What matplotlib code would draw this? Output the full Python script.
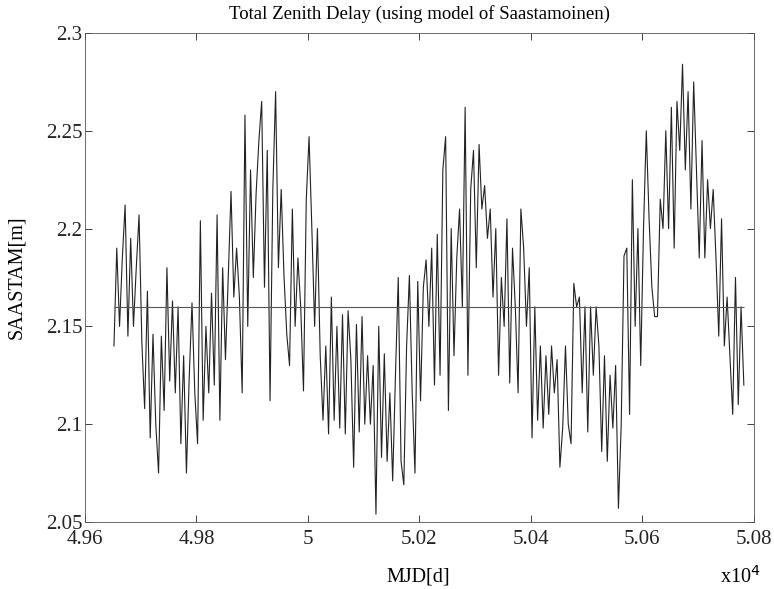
import numpy as np
import matplotlib
matplotlib.use("Agg")
import matplotlib.pyplot as plt
from matplotlib.ticker import FuncFormatter

plt.rcParams['font.family'] = ['Liberation Serif', 'DejaVu Serif']

# Zenith delay samples (m), one every 5 days starting at MJD 49652
start_mjd = 49652
step_days = 5
ztd = [
    2.140, 2.190, 2.150, 2.185, 2.212, 2.145, 2.195, 2.150, 2.180, 2.207,
    2.142, 2.108, 2.168, 2.093, 2.146, 2.100, 2.075, 2.145, 2.107, 2.180,
    2.122, 2.163, 2.116, 2.160, 2.090, 2.135, 2.075, 2.124, 2.162, 2.116,
    2.090, 2.204, 2.102, 2.150, 2.116, 2.167, 2.120, 2.207, 2.102, 2.180,
    2.133, 2.175, 2.219, 2.165, 2.190, 2.165, 2.116, 2.258, 2.150, 2.230,
    2.175, 2.218, 2.245, 2.265, 2.170, 2.240, 2.112, 2.220, 2.270, 2.180,
    2.220, 2.176, 2.146, 2.130, 2.210, 2.150, 2.185, 2.160, 2.117, 2.215,
    2.247, 2.200, 2.150, 2.200, 2.135, 2.102, 2.140, 2.095, 2.165, 2.102,
    2.150, 2.098, 2.156, 2.095, 2.158, 2.133, 2.078, 2.151, 2.096, 2.155,
    2.100, 2.135, 2.100, 2.130, 2.054, 2.150, 2.083, 2.136, 2.081, 2.116,
    2.071, 2.125, 2.175, 2.081, 2.069, 2.140, 2.176, 2.116, 2.075, 2.173,
    2.112, 2.170, 2.184, 2.150, 2.190, 2.120, 2.197, 2.125, 2.230, 2.247,
    2.107, 2.200, 2.135, 2.185, 2.210, 2.160, 2.262, 2.125, 2.220, 2.240,
    2.180, 2.243, 2.210, 2.222, 2.195, 2.210, 2.165, 2.200, 2.125, 2.175,
    2.150, 2.205, 2.121, 2.190, 2.160, 2.116, 2.210, 2.190, 2.150, 2.180,
    2.093, 2.160, 2.102, 2.140, 2.098, 2.135, 2.105, 2.140, 2.116, 2.133,
    2.078, 2.098, 2.140, 2.100, 2.090, 2.172, 2.160, 2.165, 2.116, 2.160,
    2.096, 2.160, 2.125, 2.160, 2.140, 2.086, 2.135, 2.081, 2.125, 2.098,
    2.130, 2.057, 2.100, 2.186, 2.190, 2.105, 2.225, 2.150, 2.200, 2.130,
    2.200, 2.250, 2.205, 2.170, 2.155, 2.155, 2.215, 2.200, 2.250, 2.200,
    2.262, 2.190, 2.265, 2.240, 2.284, 2.230, 2.270, 2.210, 2.275, 2.230,
    2.185, 2.245, 2.185, 2.225, 2.200, 2.220, 2.185, 2.145, 2.205, 2.140,
    2.165, 2.135, 2.105, 2.175, 2.110, 2.160, 2.120,
]
mean_ztd = 2.16

mjd = start_mjd + step_days * np.arange(len(ztd))

fig = plt.figure(figsize=(7.74, 5.89), dpi=100)
ax = fig.add_axes([0.1098, 0.1138, 0.8642, 0.8302])

ax.plot(mjd, ztd, color='#222222', linewidth=0.8)
ax.hlines(mean_ztd, mjd[0], mjd[-1], color='#555555', linewidth=0.8)

ax.set_xlim(49600, 50800)
ax.set_ylim(2.05, 2.3)
ax.set_xticks(np.arange(49600, 50801, 200))
ax.set_yticks([2.05, 2.1, 2.15, 2.2, 2.25, 2.3])
ax.xaxis.set_major_formatter(FuncFormatter(lambda v, p: '%g' % round(v / 1e4, 4)))
ax.yaxis.set_major_formatter(FuncFormatter(lambda v, p: '%g' % round(v, 3)))
ax.tick_params(direction='in', length=5, width=0.6, top=True, right=True,
               labelsize=15, colors='#222222')
ax.tick_params(axis='x', pad=6)
ax.tick_params(axis='y', pad=2)
for s in ax.spines.values():
    s.set_linewidth(0.6)
    s.set_color('#555555')

ax.set_title('Total Zenith Delay (using model of Saastamoinen)', fontsize=13.5, pad=10)
ax.set_ylabel('SAASTAM[m]', fontsize=14.5, labelpad=14)
fig.text(0.54, 0.02, 'MJD[d]', fontsize=14.5, ha='center', va='center')
fig.text(0.956, 0.02, r'x10$^4$', fontsize=14.5, ha='center', va='center')

fig.savefig('out.png', dpi=100)
